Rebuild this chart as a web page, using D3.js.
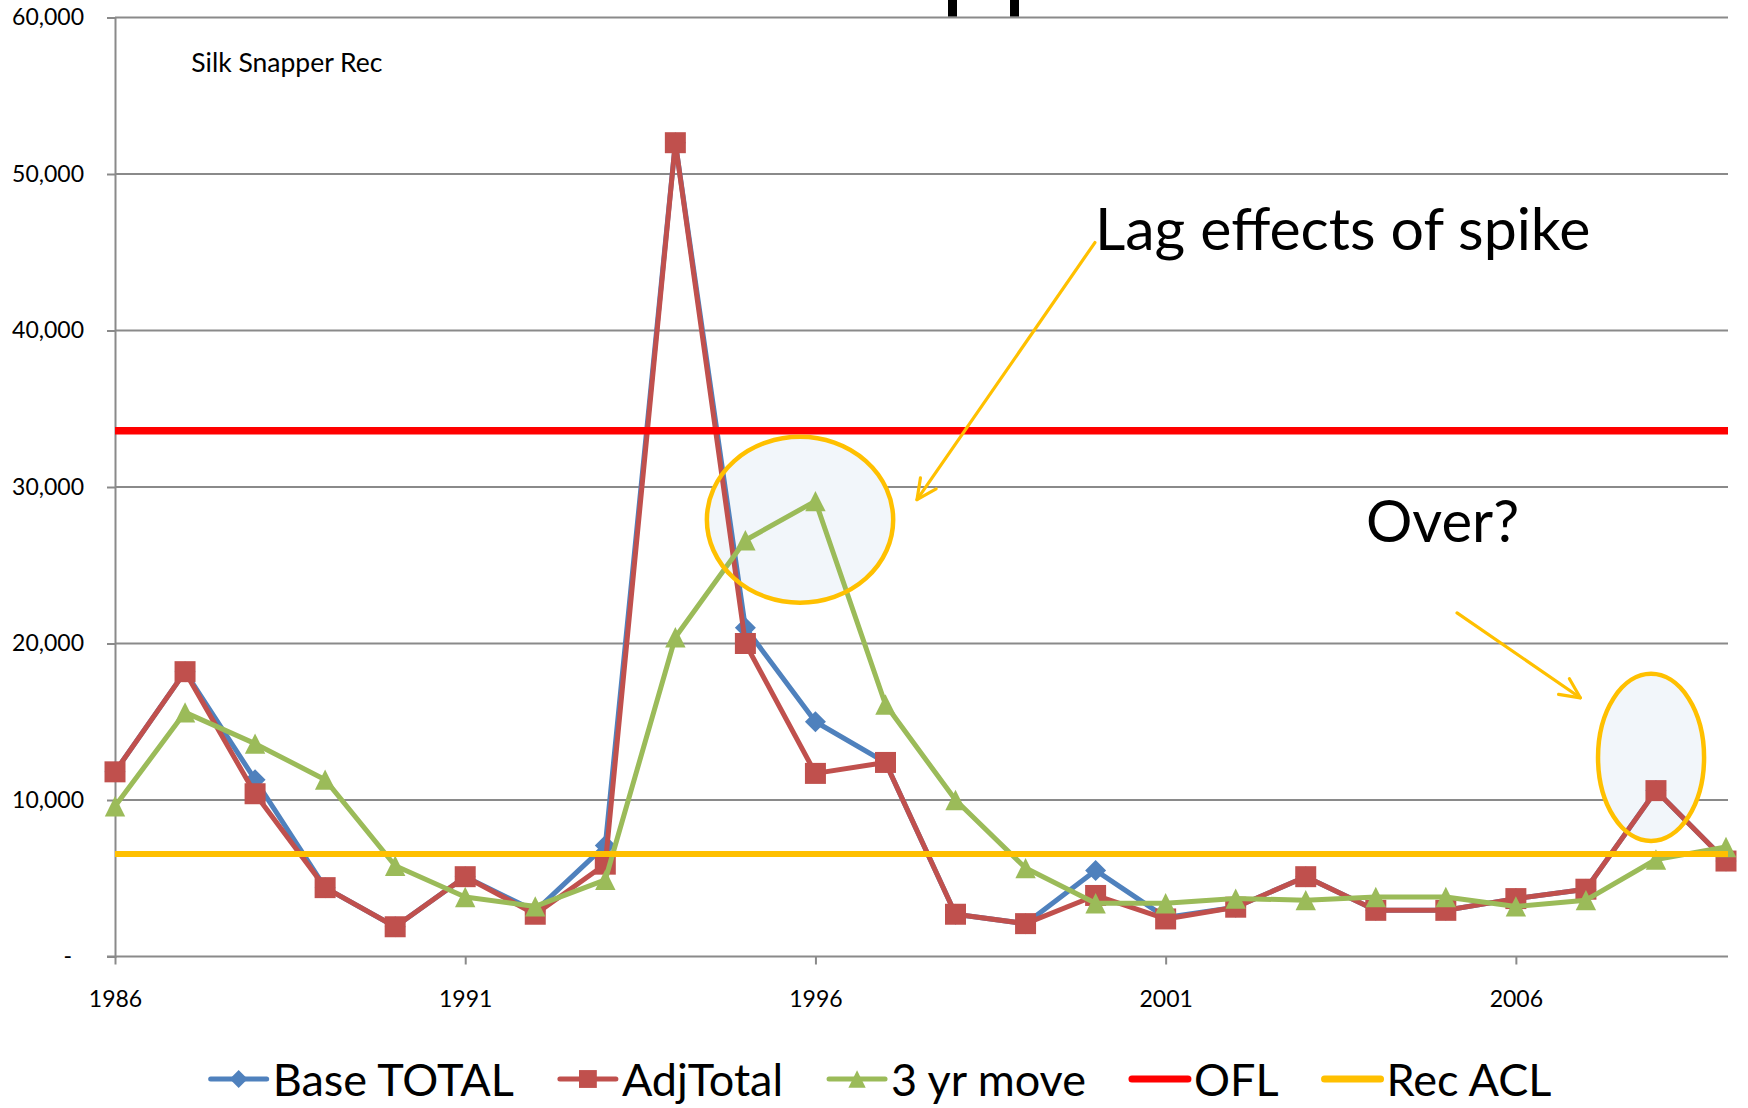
<!DOCTYPE html>
<html>
<head>
<meta charset="utf-8">
<script src="https://cdn.jsdelivr.net/npm/d3@7"></script>
<style>
  html, body { margin: 0; padding: 0; background: #ffffff; }
  svg { display: block; font-family: Lato, "Open Sans", sans-serif; }
</style>
</head>
<body>
<svg id="chart" width="1748" height="1108"></svg>
<script>
// ---------------- data ----------------
const years = [1986,1987,1988,1989,1990,1991,1992,1993,1994,1995,1996,1997,
               1998,1999,2000,2001,2002,2003,2004,2005,2006,2007,2008,2009];
const baseTotal = [11800,18200,11300,4400,1900,5100,2900,7100,52000,21000,15000,12400,
                   2700,2100,5500,2500,3150,5100,2950,2950,3700,4300,10600,6100];
const adjTotal  = [11800,18200,10400,4400,1900,5100,2700,5900,52000,20000,11700,12400,
                   2700,2100,3900,2400,3150,5100,2950,2950,3700,4300,10600,6100];
const move3yr   = [9600,15600,13600,11300,5800,3800,3200,4900,20400,26600,29100,16100,
                   10000,5650,3400,3400,3700,3600,3800,3800,3200,3600,6200,7000];
const oflValue = 33600;
const recAclValue = 6550;
const yTickValues = [0,10000,20000,30000,40000,50000,60000];
const xTickYears = [1986,1991,1996,2001,2006];
const seriesNames = ["Base TOTAL","AdjTotal","3 yr move","OFL","Rec ACL"];
const chartLabel = "Silk Snapper Rec";
const noteLag = "Lag effects of spike";
const noteOver = "Over?";

// ---------------- layout ----------------
const svg = d3.select("#chart");
const x = d3.scaleLinear().domain([1986, 2009]).range([115, 1726]);
const y = d3.scaleLinear().domain([0, 60000]).range([956.5, 17.5]);
const gridColor = "#8a8a8a";
const colors = { base: "#4F81BD", adj: "#C0504D", move: "#9BBB59", ofl: "#FF0000", acl: "#FFC000" };
const plotRight = x.range()[1] + 2;

// gridlines
svg.append("g").selectAll("line").data(yTickValues.filter(d => d > 0)).join("line")
  .attr("x1", x.range()[0]).attr("x2", plotRight)
  .attr("y1", d => y(d)).attr("y2", d => y(d))
  .attr("stroke", gridColor).attr("stroke-width", 2);

// top fragments (cut-off title strokes)
svg.append("rect").attr("x", 948).attr("y", 0).attr("width", 9).attr("height", y(60000) - 1).attr("fill", "#000");
svg.append("rect").attr("x", 1010).attr("y", 0).attr("width", 9).attr("height", y(60000) - 1).attr("fill", "#000");

// Y axis
const yAxis = svg.append("g").attr("transform", `translate(${x.range()[0]},0)`)
  .call(d3.axisLeft(y).tickValues(yTickValues).tickSize(8).tickPadding(23)
        .tickFormat(d => d === 0 ? "-" : d3.format(",")(d)));
yAxis.select(".domain").attr("stroke", gridColor).attr("stroke-width", 2);
yAxis.selectAll(".tick line").attr("stroke", gridColor).attr("stroke-width", 2);
yAxis.selectAll(".tick text").attr("font-family", "Lato").attr("font-size", 23).attr("fill", "#000")
  .attr("dx", d => d === 0 ? -12 : 0);

// X axis
const xAxis = svg.append("g").attr("transform", `translate(0,${y(0)})`)
  .call(d3.axisBottom(x).tickValues(xTickYears).tickSize(8).tickPadding(26).tickFormat(d3.format("d")));
xAxis.select(".domain").attr("stroke", "none");
xAxis.selectAll(".tick line").attr("stroke", gridColor).attr("stroke-width", 2);
xAxis.selectAll(".tick text").attr("font-family", "Lato").attr("font-size", 23).attr("fill", "#000");
svg.append("line").attr("x1", x.range()[0] - 8).attr("x2", plotRight)
  .attr("y1", y(0)).attr("y2", y(0)).attr("stroke", gridColor).attr("stroke-width", 2);

// ellipse annotations (data-space positions)
const ellipses = [
  { cx: 1995.78, cy: 27910, rxYears: 1.33, ryVal: 5300 },
  { cx: 2007.93, cy: 12720, rxYears: 0.757, ryVal: 5340 }
];
const pxPerYear = x(1987) - x(1986);
const pxPerUnit = y(0) - y(1);
svg.append("g").selectAll("ellipse").data(ellipses).join("ellipse")
  .attr("cx", d => x(d.cx)).attr("cy", d => y(d.cy))
  .attr("rx", d => d.rxYears * pxPerYear).attr("ry", d => d.ryVal * pxPerUnit)
  .attr("fill", "#F2F6FA").attr("stroke", "none");

// symbols
const sq = 10.5, tri = 10.2, dia = 10.5;
const symbolPath = {
  diamond: `M0,${-dia} L${dia},0 L0,${dia} L${-dia},0 Z`,
  square: `M${-sq},${-sq} L${sq},${-sq} L${sq},${sq} L${-sq},${sq} Z`,
  triangle: `M0,${-tri} L${tri},${tri} L${-tri},${tri} Z`
};

const line = d3.line().x((d, i) => x(years[i])).y(d => y(d));
function drawSeries(values, color, sym) {
  const g = svg.append("g");
  g.append("path").datum(values).attr("d", line)
    .attr("fill", "none").attr("stroke", color).attr("stroke-width", 5)
    .attr("stroke-linejoin", "round");
  g.selectAll("path.m").data(values).join("path").attr("class", "m")
    .attr("d", symbolPath[sym])
    .attr("transform", (d, i) => `translate(${x(years[i])},${y(d)})`)
    .attr("fill", color);
}
drawSeries(baseTotal, colors.base, "diamond");
drawSeries(adjTotal, colors.adj, "square");
drawSeries(move3yr, colors.move, "triangle");

// OFL & Rec ACL
svg.append("line").attr("x1", x(1986)).attr("x2", plotRight)
  .attr("y1", y(oflValue)).attr("y2", y(oflValue)).attr("stroke", colors.ofl).attr("stroke-width", 7.5);
svg.append("line").attr("x1", x(1986)).attr("x2", plotRight)
  .attr("y1", y(recAclValue)).attr("y2", y(recAclValue)).attr("stroke", colors.acl).attr("stroke-width", 6);

// ellipse outlines
svg.append("g").selectAll("ellipse").data(ellipses).join("ellipse")
  .attr("cx", d => x(d.cx)).attr("cy", d => y(d.cy))
  .attr("rx", d => d.rxYears * pxPerYear).attr("ry", d => d.ryVal * pxPerUnit)
  .attr("fill", "none").attr("stroke", "#FFC000").attr("stroke-width", 4.5);

// arrows (data-space)
const arrows = [
  { x1: 1999.99, y1: 45620, x2: 1997.45, y2: 29190 },
  { x1: 2005.16, y1: 21960, x2: 2006.92, y2: 16530 }
];
const arrG = svg.append("g").attr("stroke", "#FFC000").attr("stroke-width", 3.2)
  .attr("fill", "none").attr("stroke-linecap", "round").attr("stroke-linejoin", "round");
arrows.forEach(a => {
  const X1 = x(a.x1), Y1 = y(a.y1), X2 = x(a.x2), Y2 = y(a.y2);
  arrG.append("line").attr("x1", X1).attr("y1", Y1).attr("x2", X2).attr("y2", Y2);
  const ang = Math.atan2(Y2 - Y1, X2 - X1);
  const L = 22, spread = Math.PI / 7;
  const p1 = [X2 - L * Math.cos(ang - spread), Y2 - L * Math.sin(ang - spread)];
  const p2 = [X2 - L * Math.cos(ang + spread), Y2 - L * Math.sin(ang + spread)];
  arrG.append("path").attr("d", `M${p1[0]},${p1[1]} L${X2},${Y2} L${p2[0]},${p2[1]}`);
});

// text annotations
svg.append("text").attr("x", x(1987.09)).attr("y", y(56520))
  .attr("font-family", "Lato").attr("font-size", 26.5).attr("fill", "#000").text(chartLabel);
svg.append("text").attr("x", x(1999.99)).attr("y", y(45170))
  .attr("font-family", "Lato").attr("font-size", 59).attr("fill", "#000").text(noteLag);
svg.append("text").attr("x", x(2003.86)).attr("y", y(26500))
  .attr("font-family", "Lato").attr("font-size", 58).attr("fill", "#000").text(noteOver);

// legend
const legendItems = [
  { name: seriesNames[0], color: colors.base, sym: "diamond" },
  { name: seriesNames[1], color: colors.adj, sym: "square" },
  { name: seriesNames[2], color: colors.move, sym: "triangle" },
  { name: seriesNames[3], color: colors.ofl, sym: null },
  { name: seriesNames[4], color: colors.acl, sym: null }
];
const legendY = 1079, legendBase = 1096, markerW = 56, textGap = 6, itemGap = 46, legendFont = 45;
const lg = svg.append("g");
let cursor = 0;
legendItems.forEach(it => {
  const g = lg.append("g").attr("transform", `translate(${cursor},0)`);
  g.append("line").attr("x1", 0).attr("x2", markerW).attr("y1", legendY).attr("y2", legendY)
    .attr("stroke", it.color).attr("stroke-width", it.sym ? 5 : 7).attr("stroke-linecap", "round");
  if (it.sym) {
    g.append("path").attr("d", symbolPath[it.sym])
      .attr("transform", `translate(${markerW / 2},${legendY}) scale(0.85)`).attr("fill", it.color);
  }
  const t = g.append("text").attr("x", markerW + textGap).attr("y", legendBase)
    .attr("font-family", "Lato").attr("font-size", legendFont).attr("fill", "#000").text(it.name);
  cursor += markerW + textGap + t.node().getComputedTextLength() + itemGap;
});
const totalW = cursor - itemGap;
lg.attr("transform", `translate(${881 - totalW / 2},0)`);
</script>
</body>
</html>
